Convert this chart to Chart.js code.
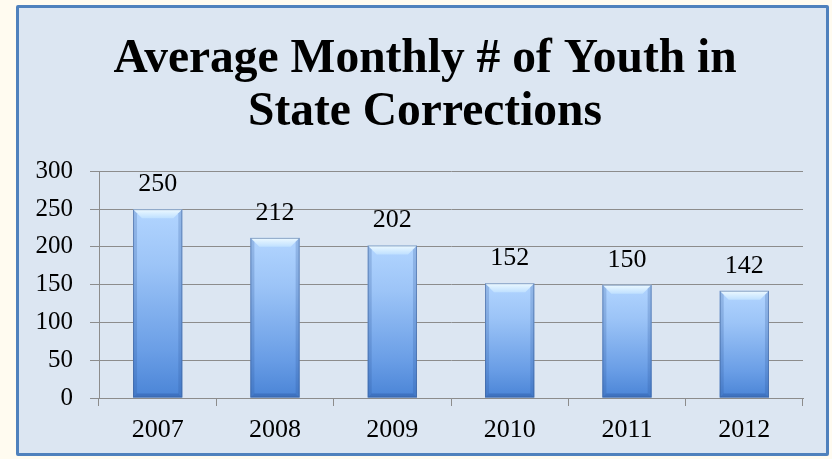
<!DOCTYPE html>
<html>
<head>
<meta charset="utf-8">
<script src="https://cdn.jsdelivr.net/npm/chart.js@4/dist/chart.umd.min.js"></script>
<style>
  html, body { margin: 0; padding: 0; background: #fffbf0; }
  #frame { position: absolute; left: 16px; top: 5px; width: 807px; height: 445px;
           border: 3px solid #4f81bd; border-radius: 2px; background: #dce6f2; }
  #wrap { position: absolute; left: 0; top: 0; width: 832px; height: 459px; }
</style>
</head>
<body>
<div id="frame"></div>
<div id="wrap"><canvas id="c" width="832" height="459"></canvas></div>
<script>
const titleLines = ['Average Monthly # of Youth in', 'State Corrections'];
const years = ['2007', '2008', '2009', '2010', '2011', '2012'];
const youth = [250, 212, 202, 152, 150, 142];
const yTicks = [0, 50, 100, 150, 200, 250, 300];

const serif = "'Liberation Serif', 'Times New Roman', serif";

function barGradient(ctx) {
  const chart = ctx.chart;
  const ys = chart.scales && chart.scales.y;
  if (!ys || ctx.raw === undefined || !chart.chartArea) return '#7aa8e8';
  const top = ys.getPixelForValue(ctx.raw);
  const bottom = ys.getPixelForValue(0);
  if (!isFinite(top) || !isFinite(bottom) || top === bottom) return '#7aa8e8';
  const g = chart.ctx.createLinearGradient(0, top, 0, bottom);
  g.addColorStop(0, '#b2d5ff');
  g.addColorStop(0.3, '#9cc4f7');
  g.addColorStop(0.75, '#6a9ee6');
  g.addColorStop(1, '#4a84d6');
  return g;
}

const bevelPlugin = {
  id: 'bevel',
  afterDatasetsDraw(chart) {
    const ctx = chart.ctx;
    chart.getDatasetMeta(0).data.forEach(bar => {
      const p = bar.getProps(['x', 'y', 'base', 'width'], true);
      const l = p.x - p.width / 2, r = p.x + p.width / 2, t = p.y, b = p.base;
      const d = 9;
      ctx.save();
      const gt = ctx.createLinearGradient(0, t, 0, t + d);
      gt.addColorStop(0, '#eefaff');
      gt.addColorStop(1, '#bfe0ff');
      ctx.fillStyle = gt;
      ctx.beginPath();
      ctx.moveTo(l, t); ctx.lineTo(r, t); ctx.lineTo(r - d, t + d); ctx.lineTo(l + d, t + d); ctx.closePath();
      ctx.fill();
      ctx.fillStyle = 'rgba(40,80,150,0.22)';
      ctx.beginPath();
      ctx.moveTo(l, t); ctx.lineTo(l + 4, t + 4); ctx.lineTo(l + 4, b - 4); ctx.lineTo(l, b); ctx.closePath(); ctx.fill();
      ctx.beginPath();
      ctx.moveTo(r, t); ctx.lineTo(r - 4, t + 4); ctx.lineTo(r - 4, b - 4); ctx.lineTo(r, b); ctx.closePath(); ctx.fill();
      ctx.fillStyle = 'rgba(30,70,140,0.3)';
      ctx.beginPath();
      ctx.moveTo(l, b); ctx.lineTo(r, b); ctx.lineTo(r - 4, b - 4); ctx.lineTo(l + 4, b - 4); ctx.closePath(); ctx.fill();
      ctx.strokeStyle = 'rgba(60,95,150,0.55)';
      ctx.lineWidth = 1;
      ctx.strokeRect(l + 0.5, t + 0.5, p.width - 1, b - t - 1);
      ctx.restore();
    });
  }
};

const labelPlugin = {
  id: 'valueLabels',
  afterDatasetsDraw(chart) {
    const ctx = chart.ctx;
    const ds = chart.data.datasets[0];
    ctx.save();
    ctx.font = '26px ' + serif;
    ctx.fillStyle = '#000';
    ctx.textAlign = 'center';
    ctx.textBaseline = 'alphabetic';
    chart.getDatasetMeta(0).data.forEach((bar, i) => {
      ctx.fillText(String(ds.data[i]), bar.x, bar.y - 18);
    });
    ctx.restore();
  }
};

new Chart(document.getElementById('c'), {
  type: 'bar',
  data: {
    labels: years,
    datasets: [{
      data: youth,
      backgroundColor: barGradient,
      borderWidth: 0,
      barPercentage: 0.42,
      categoryPercentage: 1.0
    }]
  },
  options: {
    responsive: false,
    animation: false,
    events: [],
    layout: { padding: { left: 20, right: 2, top: 0, bottom: 0 } },
    plugins: {
      legend: { display: false },
      tooltip: { enabled: false },
      title: {
        display: true,
        text: titleLines,
        color: '#000',
        font: { family: serif, size: 47.5, weight: 'bold', lineHeight: 1.12 },
        padding: { top: 33, bottom: 32 }
      }
    },
    scales: {
      x: {
        grid: { display: true, drawOnChartArea: false, drawTicks: true, tickLength: 8, color: '#8c8c8c', offset: true },
        border: { display: true, color: '#8c8c8c', width: 1 },
        ticks: { color: '#000', font: { family: serif, size: 26 }, padding: 9 },
        afterFit(scale) { scale.height = 61; }
      },
      y: {
        min: 0, max: 300,
        afterBuildTicks(scale) { scale.ticks = yTicks.map(v => ({ value: v })); },
        grid: { color: '#8c8c8c', tickLength: 9, drawTicks: true },
        border: { display: true, color: '#8c8c8c', width: 1 },
        ticks: { color: '#000', font: { family: serif, size: 25 }, padding: 17 },
        afterFit(scale) { scale.width = 79; }
      },
      yR: {
        position: 'right',
        display: true,
        grid: { display: false, drawTicks: false },
        border: { display: false },
        ticks: { display: false },
        afterFit(scale) { scale.width = 27; }
      }
    }
  },
  plugins: [bevelPlugin, labelPlugin]
});
</script>
</body>
</html>
